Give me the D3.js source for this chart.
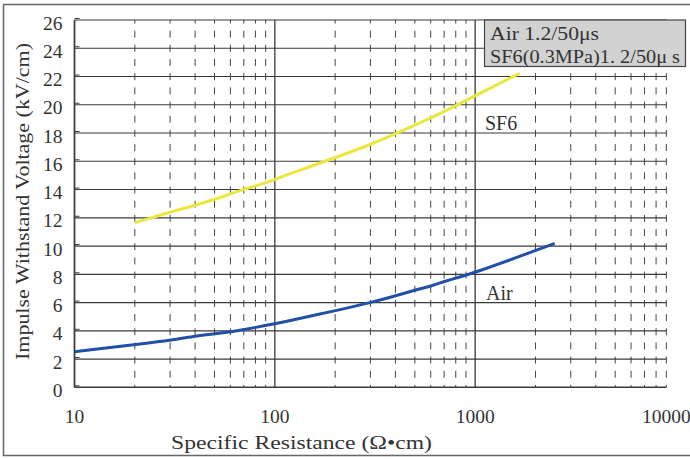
<!DOCTYPE html>
<html><head><meta charset="utf-8">
<script src="https://cdn.jsdelivr.net/npm/d3@7"></script>
<style>
html,body{margin:0;padding:0;background:#fff;}
svg{display:block;}
text{font-family:"Liberation Serif","DejaVu Serif",serif;fill:#333;}
</style></head>
<body>
<svg id="c" width="690" height="459"></svg>
<script>
// ---- data ----
const sf6Resistance = [20, 30.5, 40.4, 50.6, 60.8, 70.3, 90.9, 106, 164, 298, 389, 503, 604, 698, 796, 995, 1667];
const sf6Voltage    = [11.65, 12.43, 12.9, 13.31, 13.73, 14.02, 14.48, 14.87, 15.81, 17.15, 17.86, 18.57, 19.08, 19.51, 19.93, 20.62, 22.23];
const airResistance = [10, 20.2, 30.5, 40.4, 50.6, 60.8, 70.3, 90.9, 106, 201, 300, 401, 503, 604, 698, 796, 995, 1995, 2494];
const airVoltage    = [2.52, 3.04, 3.33, 3.65, 3.79, 3.94, 4.08, 4.39, 4.57, 5.42, 5.99, 6.48, 6.89, 7.17, 7.48, 7.72, 8.11, 9.67, 10.19];
const xMajorTicks = [10, 100, 1000];
const xTickLabels = ["10", "100", "1000", "10000"];
const xAxisEnd = 9000;
const yTicks = [0, 2, 4, 6, 8, 10, 12, 14, 16, 18, 20, 22, 24, 26];
const legendLines = ["Air 1.2/50\u03bcs", "SF6(0.3MPa)1. 2/50\u03bc s"];
const seriesLabels = ["SF6", "Air"];
const xTitle = "Specific Resistance (\u03a9\u2022cm)";
const yTitle = "Impulse Withstand Voltage (kV/cm)";

(function () {
// ---- scales ----
const svg = d3.select("#c");
const x = d3.scaleLog().domain([10, 10000]).range([74.5, 675.5]);
const y = d3.scaleLinear().domain([0, 26]).range([387.3, 20]);
const pL = x(10), pR = x(xAxisEnd), pT = y(26), pB = y(0);
const ink = "#3a3a3a";
const fs = 19.5;

// outer frame
svg.append("line").attr("x1",3).attr("x2",690).attr("y1",4.5).attr("y2",4.5).attr("stroke","#666").attr("stroke-width",1.5);
svg.append("line").attr("x1",3.5).attr("x2",3.5).attr("y1",4.5).attr("y2",456).attr("stroke","#666").attr("stroke-width",1.5);
svg.append("line").attr("x1",3).attr("x2",690).attr("y1",455.5).attr("y2",455.5).attr("stroke","#666").attr("stroke-width",1.5);

// minor vertical dashed grid
const minors = [];
xMajorTicks.forEach(d => { for (let k = 2; k <= 9; k++) minors.push(d * k); });
const g = svg.append("g");
g.selectAll("line.minor").data(minors).join("line")
  .attr("x1", d => x(d)).attr("x2", d => x(d))
  .attr("y1", pT).attr("y2", pB)
  .attr("stroke", "#444").attr("stroke-width", 1)
  .attr("stroke-dasharray", "7,7.17").attr("stroke-dashoffset", 3.5);

// horizontal grid
g.selectAll("line.h").data(yTicks.filter(d => d > 0)).join("line")
  .attr("x1", pL).attr("x2", pR)
  .attr("y1", d => y(d)).attr("y2", d => y(d))
  .attr("stroke", ink).attr("stroke-width", 1.2);

// major vertical lines
g.selectAll("line.v").data(xMajorTicks).join("line")
  .attr("x1", d => x(d)).attr("x2", d => x(d))
  .attr("y1", pT).attr("y2", pB)
  .attr("stroke", ink).attr("stroke-width", 1.3);

// bottom axis
g.append("line").attr("x1", pL).attr("x2", pR).attr("y1", pB).attr("y2", pB)
  .attr("stroke", ink).attr("stroke-width", 1.5);

// y tick marks (short, inside)
g.selectAll("line.yt").data(yTicks).join("line")
  .attr("x1", pL).attr("x2", pL + 5)
  .attr("y1", d => y(d) - 1.5).attr("y2", d => y(d) - 1.5)
  .attr("stroke", ink).attr("stroke-width", 1);

// curves
const line = d3.line().x(d => x(d[0])).y(d => y(d[1])).curve(d3.curveBasis);
svg.append("path").datum(sf6Resistance.map((r, i) => [r, sf6Voltage[i]]))
  .attr("d", line).attr("fill", "none").attr("stroke", "#ece73f").attr("stroke-width", 3);
svg.append("path").datum(airResistance.map((r, i) => [r, airVoltage[i]]))
  .attr("d", line).attr("fill", "none").attr("stroke", "#2150a6").attr("stroke-width", 3);

// y tick labels
svg.selectAll("text.yl").data(yTicks).join("text")
  .attr("x", pL - 12).attr("y", d => y(d) + 9.5)
  .attr("text-anchor", "end").attr("font-size", fs).text(d => d);

// x tick labels
const xLabelPos = [...xMajorTicks, xAxisEnd];
svg.selectAll("text.xl").data(xTickLabels).join("text")
  .attr("x", (d, i) => x(xLabelPos[i])).attr("y", 423)
  .attr("text-anchor", "middle").attr("font-size", fs).text(d => d);

// axis titles
svg.append("text").attr("x", 171).attr("y", 449)
  .attr("font-size", 19).attr("textLength", 261).attr("lengthAdjust", "spacingAndGlyphs").text(xTitle);
svg.append("text").attr("transform", "translate(29,360) rotate(-90)")
  .attr("font-size", 19).attr("textLength", 317).attr("lengthAdjust", "spacingAndGlyphs").text(yTitle);

// left axis
svg.append("line").attr("x1", pL).attr("x2", pL).attr("y1", pT).attr("y2", pB)
  .attr("stroke", ink).attr("stroke-width", 1.5);

// legend box
svg.append("rect").attr("x", 484.5).attr("y", 20).attr("width", 201).attr("height", 46.5)
  .attr("fill", "#d2d2d2").attr("stroke", "#444").attr("stroke-width", 1.2);
const legendWidths = [109, 190];
svg.selectAll("text.lg").data(legendLines).join("text")
  .attr("x", 490).attr("y", (d, i) => 39.5 + i * 23)
  .attr("font-size", 19).attr("textLength", (d, i) => legendWidths[i])
  .attr("lengthAdjust", "spacingAndGlyphs").text(d => d);

// series labels
svg.append("text").attr("x", 485).attr("y", 130).attr("font-size", 20).text(seriesLabels[0]);
svg.append("text").attr("x", 486).attr("y", 300).attr("font-size", 20).text(seriesLabels[1]);
})();
</script>
</body></html>
